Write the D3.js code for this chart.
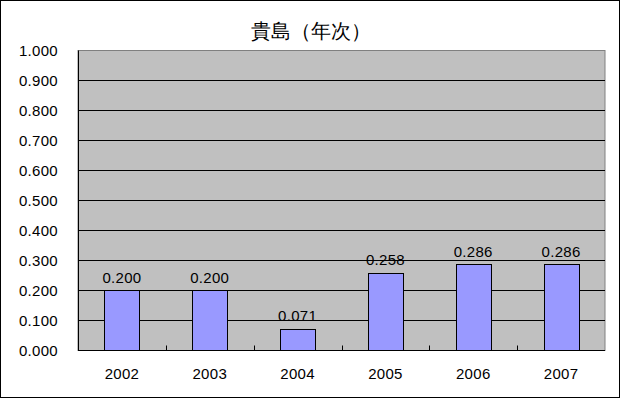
<!DOCTYPE html>
<html>
<head>
<meta charset="utf-8">
<script src="https://cdn.jsdelivr.net/npm/d3@7"></script>
<style>
  body { margin: 0; background: #fff; }
  text { font-family: "Liberation Sans", Arial, sans-serif; }
</style>
</head>
<body>
<script>
var years = ["2002", "2003", "2004", "2005", "2006", "2007"];
var values = [0.200, 0.200, 0.071, 0.258, 0.286, 0.286];
var yTicks = [0, 0.1, 0.2, 0.3, 0.4, 0.5, 0.6, 0.7, 0.8, 0.9, 1.0];
var title = "貴島（年次）";

var w = 621;
var h = 399;
var plotL = 78, plotR = 605, plotT = 50.5, plotB = 350.5;

var svg = d3.select("body")
            .append("svg")
            .attr("width", w)
            .attr("height", h);

// outer frame
svg.append("rect")
   .attr("x", 0.5).attr("y", 0.5)
   .attr("width", 619).attr("height", 397)
   .attr("fill", "#fff")
   .attr("stroke", "#000");

var xScale = d3.scaleBand()
               .domain(years)
               .range([plotL, plotR])
               .paddingInner(0.6)
               .paddingOuter(0.3);

var yScale = d3.scaleLinear()
               .domain([0, 1])
               .range([plotB, plotT]);

// plot area
svg.append("rect")
   .attr("x", plotL).attr("y", plotT)
   .attr("width", plotR - plotL).attr("height", plotB - plotT)
   .attr("fill", "#c0c0c0")
   .attr("stroke", "#808080");

// gridlines
svg.selectAll("line.grid")
   .data(yTicks.slice(1, -1))
   .enter()
   .append("line")
   .attr("class", "grid")
   .attr("x1", plotL).attr("x2", plotR)
   .attr("y1", function(d) { return Math.floor(yScale(d)) + 0.5; })
   .attr("y2", function(d) { return Math.floor(yScale(d)) + 0.5; })
   .attr("stroke", "#000");

// bars
svg.selectAll("rect.bar")
   .data(values)
   .enter()
   .append("rect")
   .attr("class", "bar")
   .attr("x", function(d, i) { return Math.round(xScale(years[i])) + 0.5; })
   .attr("y", function(d) { return Math.floor(yScale(d)) + 0.5; })
   .attr("width", Math.round(xScale.bandwidth()))
   .attr("height", function(d) { return Math.floor(yScale(0)) - Math.floor(yScale(d)); })
   .attr("fill", "#9999ff")
   .attr("stroke", "#000");

// axes lines
svg.append("line")
   .attr("x1", plotL + 0.5).attr("x2", plotL + 0.5)
   .attr("y1", plotT).attr("y2", plotB)
   .attr("stroke", "#000");
svg.append("line")
   .attr("x1", plotL).attr("x2", plotR)
   .attr("y1", plotB).attr("y2", plotB)
   .attr("stroke", "#000");

// x tick marks (inside, between categories)
var step = xScale.step();
svg.selectAll("line.xtick")
   .data(years.slice(1))
   .enter()
   .append("line")
   .attr("class", "xtick")
   .attr("x1", function(d) { return Math.round(xScale(d) - step * xScale.paddingInner() / 2) + 0.5; })
   .attr("x2", function(d) { return Math.round(xScale(d) - step * xScale.paddingInner() / 2) + 0.5; })
   .attr("y1", plotB - 5).attr("y2", plotB)
   .attr("stroke", "#000");

// y labels
svg.selectAll("text.ylab")
   .data(yTicks)
   .enter()
   .append("text")
   .attr("class", "ylab")
   .text(function(d) { return d3.format(".3f")(d); })
   .attr("x", 58)
   .attr("y", function(d) { return yScale(d) + 5; })
   .attr("text-anchor", "end")
   .attr("font-size", "15px")
   .attr("letter-spacing", "0.3px")
   .attr("fill", "#000");

// x labels
svg.selectAll("text.xlab")
   .data(years)
   .enter()
   .append("text")
   .attr("class", "xlab")
   .text(function(d) { return d; })
   .attr("x", function(d) { return xScale(d) + xScale.bandwidth() / 2; })
   .attr("y", 379)
   .attr("text-anchor", "middle")
   .attr("font-size", "15px")
   .attr("letter-spacing", "0.3px")
   .attr("fill", "#000");

// value labels
svg.selectAll("text.val")
   .data(values)
   .enter()
   .append("text")
   .attr("class", "val")
   .text(function(d) { return d3.format(".3f")(d); })
   .attr("x", function(d, i) { return xScale(years[i]) + xScale.bandwidth() / 2; })
   .attr("y", function(d) { return yScale(d) - 8; })
   .attr("text-anchor", "middle")
   .attr("font-size", "15px")
   .attr("letter-spacing", "0.3px")
   .attr("fill", "#000");

// title
svg.append("text")
   .text(title)
   .attr("x", 311)
   .attr("y", 38)
   .attr("text-anchor", "middle")
   .attr("font-family", "'Noto Sans CJK JP', sans-serif")
   .attr("font-size", "20px")
   .attr("fill", "#000");
</script>
</body>
</html>
